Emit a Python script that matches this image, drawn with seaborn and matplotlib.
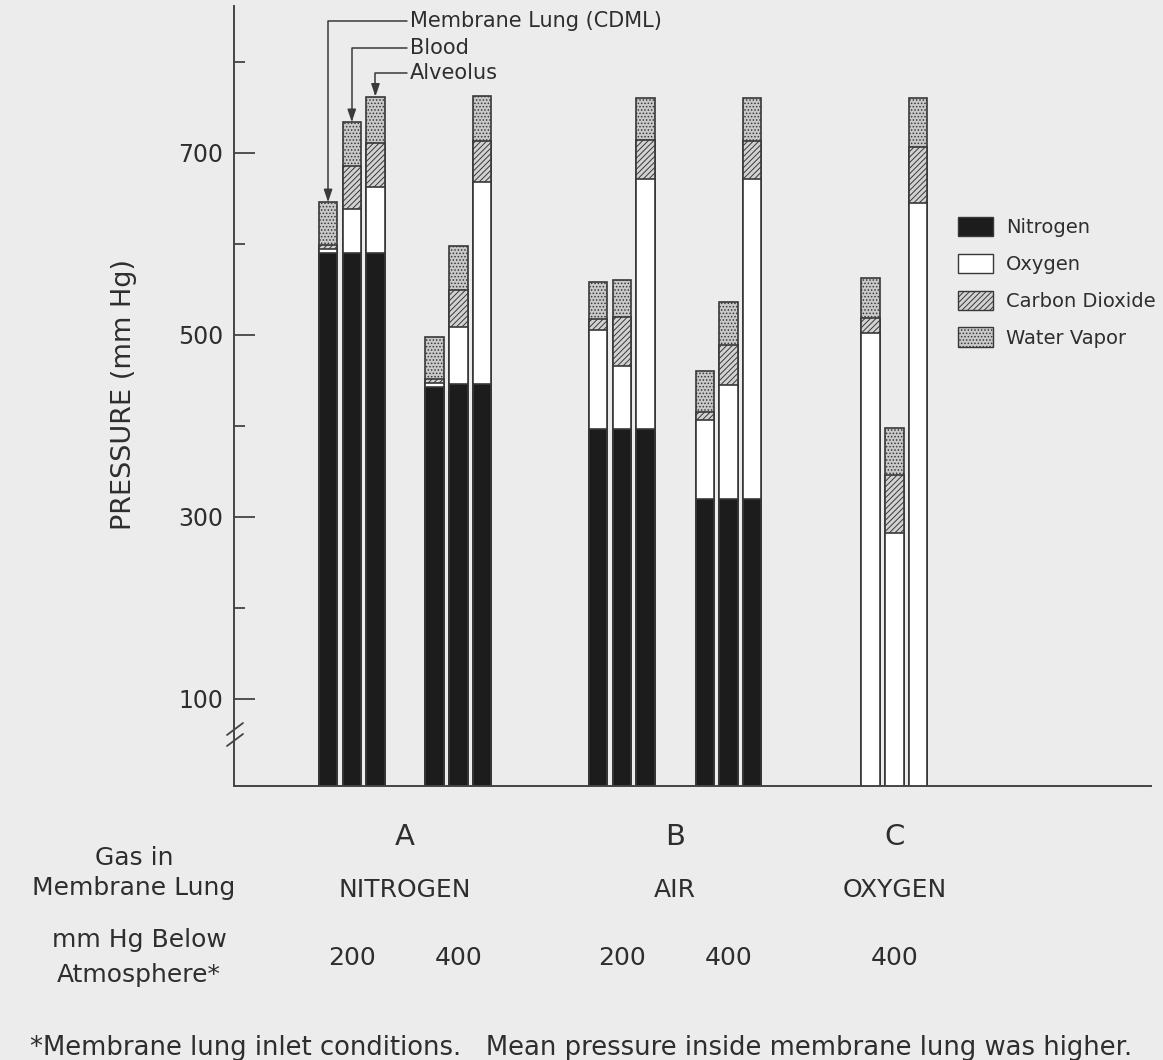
import pandas as pd
import matplotlib.pyplot as plt
import matplotlib.transforms as mtransforms
from matplotlib.patches import Patch
from matplotlib.lines import Line2D
import seaborn as sns

sns.set_style("ticks")
plt.rcParams["font.family"] = ["DejaVu Sans"]
plt.rcParams["hatch.linewidth"] = 0.7
plt.rcParams["hatch.color"] = "#7a7a7a"

# data (mm Hg), one value per bar
groups = ["NITROGEN 200", "NITROGEN 400", "AIR 200", "AIR 400", "OXYGEN 400"]
sites = ["Membrane Lung (CDML)", "Blood", "Alveolus"]
nitrogen = [590, 590, 590, 443, 446, 446, 397, 397, 397, 320, 320, 320, 0, 0, 0]
oxygen = [4, 48, 73, 4, 63, 222, 108, 69, 274, 87, 125, 351, 502, 282, 645]
co2 = [5, 48, 48, 5, 40, 45, 13, 54, 43, 8, 44, 42, 17, 64, 62]
water = [47, 48, 51, 46, 49, 50, 40, 40, 46, 45, 47, 47, 44, 52, 53]

letters = ["A", "B", "C"]
gas_names = ["NITROGEN", "AIR", "OXYGEN"]
below_atm = ["200", "400", "200", "400", "400"]
yticks_major = [100, 300, 500, 700]
yticks_minor = [200, 400, 600, 800]

W, H = 1163, 1060
ink = "#2e2e2e"
bg = "#ececec"

# layout: where each group of three bars starts
group_start = [0.0, 4.5, 11.4, 15.9, 22.9]

rows = []
for gi, g in enumerate(groups):
    for si, s in enumerate(sites):
        rows.append({"group": g, "site": s, "pos": group_start[gi] + si})
df = pd.DataFrame(rows)
df["nitrogen"] = nitrogen
df["oxygen"] = oxygen
df["co2"] = co2
df["water"] = water
df["top_n2"] = df["nitrogen"]
df["top_o2"] = df["top_n2"] + df["oxygen"]
df["top_co2"] = df["top_o2"] + df["co2"]
df["total"] = df["top_co2"] + df["water"]

fig = plt.figure(figsize=(W / 100, H / 100), dpi=100, facecolor=bg)
ax = fig.add_axes([234 / W, (H - 786) / H, (1151 - 234) / W, 780 / H])
ax.set_facecolor(bg)

styles = {
    "water": dict(color="#c9c9c9", hatch="....."),
    "co2": dict(color="#d2d2d2", hatch="//////"),
    "oxygen": dict(color="#ffffff", hatch=None),
    "nitrogen": dict(color="#1c1c1c", hatch=None),
}
layers = [("total", "water"), ("top_co2", "co2"), ("top_o2", "oxygen"), ("top_n2", "nitrogen")]
for col, key in layers:
    st = styles[key]
    sns.barplot(data=df, x="pos", y=col, native_scale=True, orient="x",
                width=0.78, color=st["color"], saturation=1, hatch=st["hatch"],
                edgecolor="#383838", linewidth=1.2, errorbar=None, ax=ax)

ax.set_xlim(-3.97, 34.73)
ax.set_ylim(4.4, 861.5)
ax.set_xticks([])
ax.set_xlabel("")
ax.set_ylabel("")
ax.set_yticks(yticks_major)
ax.set_yticks(yticks_minor, minor=True)
ax.set_yticklabels([str(v) for v in yticks_major])
ax.tick_params(axis="y", which="major", direction="in", length=15, width=1.3,
               labelsize=17, labelcolor=ink, color="#444444", pad=8)
ax.tick_params(axis="y", which="minor", direction="in", length=8, width=1.3,
               color="#444444")
sns.despine(ax=ax)
for side in ["left", "bottom"]:
    ax.spines[side].set_color("#444444")
    ax.spines[side].set_linewidth(1.4)

# axis break marks
for y0 in [735, 746]:
    ax.add_line(Line2D([(227 - 234) / 917, (243 - 234) / 917],
                       [(786 - y0) / 780, (786 - y0 + 12) / 780],
                       transform=ax.transAxes, color="#444444", lw=1.3, clip_on=False))

# arrows naming the three bars of the first group
label_y = [21, 48, 73]
for si, s in enumerate(sites):
    ax.annotate(s, xy=(df["pos"][si], df["total"][si]), xycoords="data",
                xytext=(410 / W, 1 - label_y[si] / H), textcoords="figure fraction",
                ha="left", va="center", fontsize=15, color=ink,
                arrowprops=dict(arrowstyle="-|>,head_length=0.5,head_width=0.17",
                                color="#3a3a3a", lw=1.1, shrinkA=0, shrinkB=0,
                                connectionstyle="angle,angleA=0,angleB=90,rad=0"))

legend_handles = [
    Patch(facecolor=styles["nitrogen"]["color"], edgecolor="#383838", label="Nitrogen"),
    Patch(facecolor=styles["oxygen"]["color"], edgecolor="#383838", label="Oxygen"),
    Patch(facecolor=styles["co2"]["color"], edgecolor="#383838", hatch=styles["co2"]["hatch"],
          label="Carbon Dioxide"),
    Patch(facecolor=styles["water"]["color"], edgecolor="#383838", hatch=styles["water"]["hatch"],
          label="Water Vapor"),
]
fig.legend(handles=legend_handles, loc="upper left", bbox_to_anchor=(958 / W, 1 - 217 / H),
           frameon=False, fontsize=14, labelcolor=ink, handlelength=1.8, handleheight=1.15,
           handletextpad=0.65, labelspacing=0.85, borderpad=0, borderaxespad=0)

# text under the axis
tr = mtransforms.blended_transform_factory(ax.transData, fig.transFigure)
centers = [group_start[i] + 1 for i in range(len(groups))]
letter_x = [(centers[0] + centers[1]) / 2, (centers[2] + centers[3]) / 2, centers[4]]
for lx, letter, gname in zip(letter_x, letters, gas_names):
    ax.text(lx, 1 - 845 / H, letter, transform=tr, ha="center", va="baseline",
            fontsize=21, color=ink)
    ax.text(lx, 1 - 897 / H, gname, transform=tr, ha="center", va="baseline",
            fontsize=18, color=ink)
for cx, p in zip(centers, below_atm):
    ax.text(cx, 1 - 965 / H, p, transform=tr, ha="center", va="baseline",
            fontsize=18, color=ink)

def ftext(x, y, s, **kw):
    fig.text(x / W, 1 - y / H, s, color=ink, **kw)

ftext(134, 865, "Gas in", ha="center", va="baseline", fontsize=18)
ftext(134, 895, "Membrane Lung", ha="center", va="baseline", fontsize=18)
ftext(139, 947, "mm Hg Below", ha="center", va="baseline", fontsize=18)
ftext(139, 982, "Atmosphere*", ha="center", va="baseline", fontsize=18)
ftext(30, 1055, "*Membrane lung inlet conditions.   Mean pressure inside membrane lung was higher.",
      ha="left", va="baseline", fontsize=18.6)
ftext(124, 395, "PRESSURE (mm Hg)", ha="center", va="center", rotation=90, fontsize=19.5)

fig.savefig("out.png", dpi=100, facecolor=bg)
